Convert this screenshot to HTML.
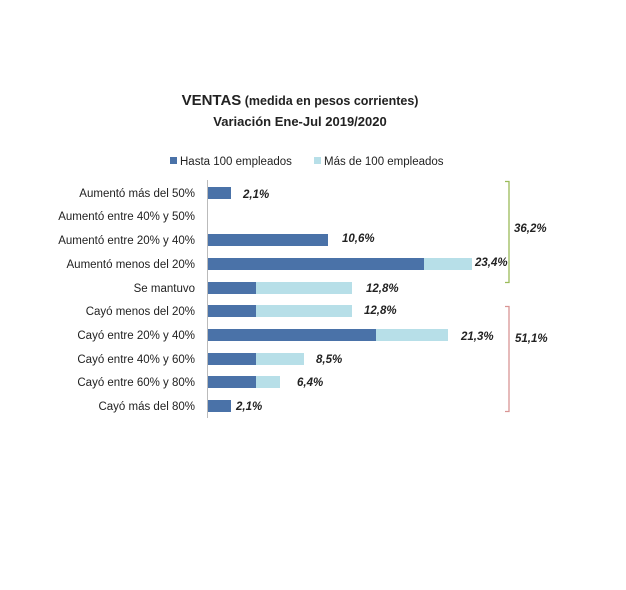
<!DOCTYPE html>
<html><head><meta charset="utf-8"><style>
body{margin:0;background:#fff}
svg{display:block}
text{font-family:"Liberation Sans",sans-serif;fill:#222}
.l{font-size:11.5px;text-anchor:end}
.v{font-size:11.5px;font-weight:bold;font-style:italic}
</style></head><body>
<svg width="626" height="590" viewBox="0 0 626 590">
<rect width="626" height="590" fill="#fff"/>
<text x="300" y="105" text-anchor="middle" font-weight="bold" font-size="12.5"><tspan font-size="15">VENTAS</tspan> (medida en pesos corrientes)</text>
<text x="300" y="126" text-anchor="middle" font-weight="bold" font-size="13">Variación Ene-Jul 2019/2020</text>
<rect x="170" y="157" width="7" height="7" fill="#4a72a8"/>
<text x="180" y="165" font-size="11.5">Hasta 100 empleados</text>
<rect x="314" y="157" width="7" height="7" fill="#b7dfe8"/>
<text x="324" y="165" font-size="11.5">Más de 100 empleados</text>
<line x1="207.5" y1="180" x2="207.5" y2="418" stroke="#bbb"/>
<g class="l">
<text class="l" x="195" y="197">Aumentó más del 50%</text>
<text class="l" x="195" y="220">Aumentó entre 40% y 50%</text>
<text class="l" x="195" y="244">Aumentó entre 20% y 40%</text>
<text class="l" x="195" y="268">Aumentó menos del 20%</text>
<text class="l" x="195" y="292">Se mantuvo</text>
<text class="l" x="195" y="315">Cayó menos del 20%</text>
<text class="l" x="195" y="339">Cayó entre 20% y 40%</text>
<text class="l" x="195" y="363">Cayó entre 40% y 60%</text>
<text class="l" x="195" y="386">Cayó entre 60% y 80%</text>
<text class="l" x="195" y="410">Cayó más del 80%</text>
</g>
<g fill="#4a72a8">
<rect x="208" y="187" width="23" height="12"/>
<rect x="208" y="234" width="120" height="12"/>
<rect x="208" y="258" width="216" height="12"/>
<rect x="208" y="282" width="48" height="12"/>
<rect x="208" y="305" width="48" height="12"/>
<rect x="208" y="329" width="168" height="12"/>
<rect x="208" y="353" width="48" height="12"/>
<rect x="208" y="376" width="48" height="12"/>
<rect x="208" y="400" width="23" height="12"/>
</g>
<g fill="#b7dfe8">
<rect x="424" y="258" width="48" height="12"/>
<rect x="256" y="282" width="96" height="12"/>
<rect x="256" y="305" width="96" height="12"/>
<rect x="376" y="329" width="72" height="12"/>
<rect x="256" y="353" width="48" height="12"/>
<rect x="256" y="376" width="24" height="12"/>
</g>
<text class="v" x="243" y="198">2,1%</text>
<text class="v" x="342" y="242">10,6%</text>
<text class="v" x="475" y="266">23,4%</text>
<text class="v" x="366" y="292">12,8%</text>
<text class="v" x="364" y="314">12,8%</text>
<text class="v" x="461" y="340">21,3%</text>
<text class="v" x="316" y="363">8,5%</text>
<text class="v" x="297" y="386">6,4%</text>
<text class="v" x="236" y="410">2,1%</text>
<path d="M505 181.5H509V282.5H505" fill="none" stroke="#9bbb59" stroke-width="1.3"/>
<path d="M505 306.5H509V411.5H505" fill="none" stroke="#d99594" stroke-width="1.3"/>
<text class="v" x="514" y="232">36,2%</text>
<text class="v" x="515" y="342">51,1%</text>
</svg>
</body></html>
